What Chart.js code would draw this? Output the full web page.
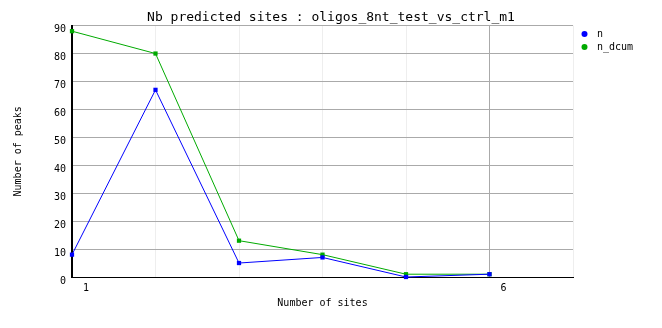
<!DOCTYPE html>
<html>
<head>
<meta charset="utf-8">
<script src="https://cdn.jsdelivr.net/npm/chart.js@4"></script>
<style>
  body { margin: 0; background: #fff; }
</style>
</head>
<body>
<canvas id="sitesChart" width="662" height="328"></canvas>
<script>
// data
const sites = [1, 2, 3, 4, 5, 6];
const nValues = [8, 67, 5, 7, 0, 1];
const nDcumValues = [88, 80, 13, 8, 1, 1];
const xTickLabels = [1, 6];
const yTickValues = [0, 10, 20, 30, 40, 50, 60, 70, 80, 90];

const MONO = "'DejaVu Sans Mono', 'Liberation Mono', monospace";

// small legend on the right, drawn after the chart
const sideLegend = {
  id: "sideLegend",
  afterDraw(chart) {
    const ctx = chart.ctx;
    ctx.save();
    ctx.font = "10px " + MONO;
    ctx.textBaseline = "middle";
    ctx.textAlign = "left";
    chart.data.datasets.forEach((ds, i) => {
      const y = 34 + i * 13;
      ctx.fillStyle = ds.borderColor;
      ctx.beginPath();
      ctx.arc(584.5, y, 3, 0, Math.PI * 2);
      ctx.fill();
      ctx.fillStyle = "#000";
      ctx.fillText(ds.label, 597, y);
    });
    ctx.restore();
  },
};

function toPoints(values) {
  return sites.map((s, i) => ({ x: s, y: values[i] }));
}

const ctx = document.getElementById("sitesChart").getContext("2d");

new Chart(ctx, {
  type: "line",
  data: {
    datasets: [
      {
        label: "n",
        data: toPoints(nValues),
        borderColor: "#0000ff",
        backgroundColor: "#0000ff",
        borderWidth: 1,
        pointStyle: "rect",
        pointRadius: 3,
        pointBorderWidth: 0,
        tension: 0,
        clip: false,
      },
      {
        label: "n_dcum",
        data: toPoints(nDcumValues),
        borderColor: "#00aa00",
        backgroundColor: "#00aa00",
        borderWidth: 1,
        pointStyle: "rect",
        pointRadius: 3,
        pointBorderWidth: 0,
        tension: 0,
        clip: false,
      },
    ],
  },
  options: {
    responsive: false,
    animation: false,
    plugins: {
      legend: { display: false },
      tooltip: { enabled: false },
      title: {
        display: true,
        text: "Nb predicted sites : oligos_8nt_test_vs_ctrl_m1",
        color: "#000",
        font: { family: MONO, size: 13, weight: "normal" },
        padding: { top: 10, bottom: 0 },
      },
    },
    scales: {
      x: {
        type: "linear",
        min: 1,
        max: 7,
        afterFit: (s) => { s.height = 51; },
        afterBuildTicks: (s) => {
          s.ticks = [1, 2, 3, 4, 5, 6, 7].map((v) => ({ value: v }));
        },
        ticks: {
          color: "#000",
          font: { family: MONO, size: 10 },
          padding: 5,
          labelOffset: 14,
          maxRotation: 0,
          autoSkip: false,
          callback: (v) => (xTickLabels.includes(v) ? String(v) : ""),
        },
        grid: {
          drawTicks: false,
          color: (c) => (c.tick && c.tick.value === 6 ? "#aaaaaa" : "#eeeeee"),
        },
        border: { color: "#000", width: 1 },
        title: {
          display: true,
          text: "Number of sites",
          color: "#000",
          font: { family: MONO, size: 10 },
          padding: { top: 0, bottom: 19 },
        },
      },
      y: {
        min: 0,
        max: 90,
        afterFit: (s) => { s.width = 72; },
        afterBuildTicks: (s) => {
          s.ticks = yTickValues.map((v) => ({ value: v }));
        },
        ticks: {
          color: "#000",
          font: { family: MONO, size: 10 },
          padding: 6,
          labelOffset: 4,
        },
        grid: { drawTicks: false, color: "#aaaaaa" },
        border: { color: "#000", width: 2 },
        title: {
          display: true,
          text: "Number of peaks",
          color: "#000",
          font: { family: MONO, size: 10 },
          padding: { top: 12, bottom: 0 },
        },
      },
      // empty box on the right that leaves room for the legend
      spacer: {
        type: "linear",
        position: "right",
        display: true,
        afterFit: (s) => { s.width = 89; },
        ticks: { display: false },
        grid: { display: false },
        border: { display: false },
      },
    },
  },
  plugins: [sideLegend],
});
</script>
</body>
</html>
